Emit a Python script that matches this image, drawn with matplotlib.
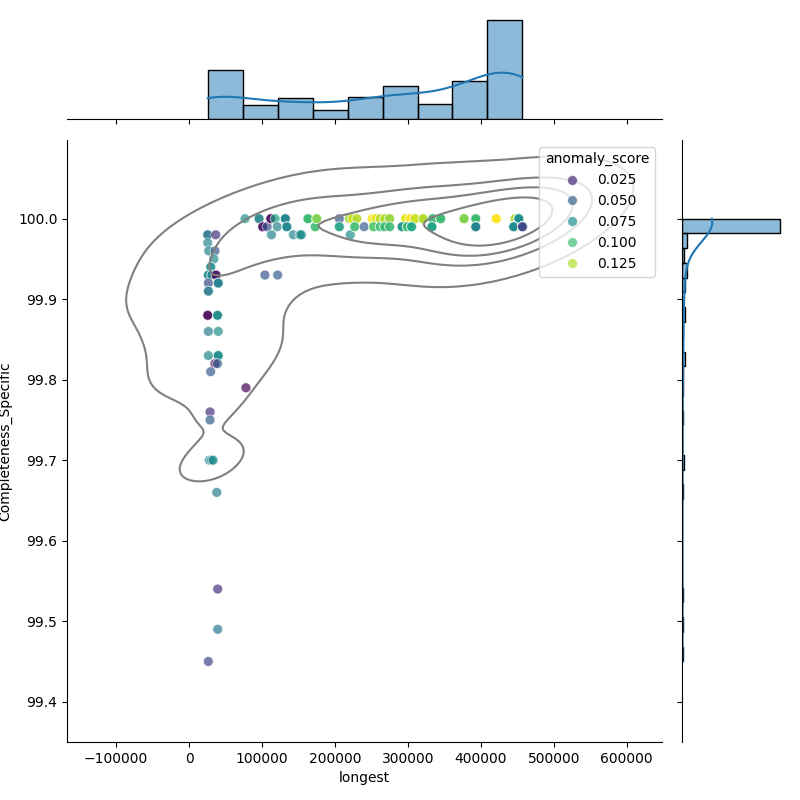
import numpy as np
import pandas as pd
import matplotlib
matplotlib.use("Agg")
import matplotlib.pyplot as plt
import seaborn as sns

# distinct points (x in thousands) and how often each row occurs
longest_k = [
    # short column
    25.6, 36.6, 25.6, 27.0, 35.6, 34.0, 29.7, 26.5, 31.2, 37.0, 26.5, 40.0, 26.5,
    25.6, 39.0, 26.5, 40.0, 26.5, 40.0, 35.6, 39.0, 29.7, 28.8, 28.8, 27.8, 31.0,
    33.0, 38.0, 39.3, 39.3, 26.4,
    # 74k - 122k
    76.7, 78.0, 96.0, 101.0, 104.0, 107.0, 112.0, 113.0, 118.0, 121.0, 121.5,
    # 122k - 170k
    132.0, 134.0, 143.0, 152.0, 154.0, 163.0,
    # 170k - 218k
    173.0, 175.0, 206.0, 206.0,
    # 218k - 266k
    220.0, 224.0, 230.0, 221.0, 227.0, 240.0, 251.0, 256.0, 262.0, 253.0, 262.0,
    # 266k - 314k
    268.0, 275.0, 268.0, 275.0, 297.0, 303.0, 310.0, 292.0, 299.0, 305.0,
    # 314k - 362k
    321.0, 334.0, 333.0, 345.0,
    # 362k - 410k
    377.0, 393.0, 393.0,
    # 410k - 458k
    421.0, 447.0, 452.0, 445.0, 457.0,
]
completeness = [
    99.98, 99.98, 99.97, 99.96, 99.96, 99.95, 99.94, 99.93, 99.93, 99.93, 99.92, 99.92, 99.91,
    99.88, 99.88, 99.86, 99.86, 99.83, 99.83, 99.82, 99.82, 99.81, 99.76, 99.75, 99.70, 99.70,
    99.70, 99.66, 99.54, 99.49, 99.45,
    100.0, 99.79, 100.0, 99.99, 99.93, 99.99, 100.0, 99.98, 100.0, 99.99, 99.93,
    100.0, 99.99, 99.98, 99.98, 99.98, 100.0,
    99.99, 100.0, 100.0, 99.99,
    100.0, 100.0, 100.0, 99.98, 99.99, 99.99, 100.0, 100.0, 100.0, 99.99, 99.99,
    100.0, 100.0, 99.99, 99.99, 100.0, 100.0, 100.0, 99.99, 99.99, 99.99,
    100.0, 100.0, 99.99, 100.0,
    100.0, 100.0, 99.99,
    100.0, 100.0, 100.0, 99.99, 99.99,
]
anomaly = [
    0.060, 0.030, 0.070, 0.070, 0.050, 0.075, 0.075, 0.075, 0.070, 0.015, 0.040, 0.070, 0.065,
    0.012, 0.075, 0.065, 0.075, 0.070, 0.075, 0.012, 0.050, 0.050, 0.030, 0.050, 0.070, 0.065,
    0.075, 0.065, 0.030, 0.065, 0.040,
    0.075, 0.012, 0.070, 0.015, 0.045, 0.045, 0.015, 0.070, 0.085, 0.070, 0.050,
    0.070, 0.072, 0.070, 0.072, 0.075, 0.100,
    0.100, 0.115, 0.045, 0.085,
    0.120, 0.130, 0.125, 0.075, 0.100, 0.050, 0.140, 0.135, 0.125, 0.105, 0.100,
    0.125, 0.120, 0.100, 0.100, 0.135, 0.140, 0.130, 0.080, 0.100, 0.090,
    0.125, 0.100, 0.085, 0.100,
    0.115, 0.100, 0.070,
    0.140, 0.125, 0.075, 0.075, 0.040,
]
repeats = [
    2, 1, 1, 1, 1, 1, 2, 3, 2, 2, 1, 3, 2,
    2, 3, 1, 1, 1, 3, 1, 1, 1, 1, 1, 1, 1,
    1, 1, 1, 1, 1,
    1, 1, 2, 2, 1, 1, 2, 1, 1, 1, 1,
    5, 3, 1, 2, 1, 6,
    2, 3, 1, 2,
    2, 2, 2, 1, 2, 1, 2, 2, 2, 2, 2,
    3, 3, 3, 2, 4, 3, 3, 3, 3, 3,
    4, 3, 3, 4,
    12, 13, 10,
    15, 20, 20, 15, 20,
]

df = pd.DataFrame({
    "longest": np.array(longest_k) * 1000,
    "Completeness_Specific": completeness,
    "anomaly_score": anomaly,
})
df = df.loc[df.index.repeat(repeats)].reset_index(drop=True)

g = sns.JointGrid(data=df, x="longest", y="Completeness_Specific", height=8, ratio=5, space=0.2)

# 散布図 + 等高線
sns.scatterplot(data=df, x="longest", y="Completeness_Specific", hue="anomaly_score",
                palette="viridis", alpha=0.7, s=50, ax=g.ax_joint)
sns.kdeplot(data=df, x="longest", y="Completeness_Specific", color="gray", levels=5, ax=g.ax_joint)

# 周辺ヒストグラム
sns.histplot(data=df, x="longest", bins=9, kde=True, ax=g.ax_marg_x)
sns.histplot(data=df, y="Completeness_Specific", bins=30, kde=True, ax=g.ax_marg_y)
g.ax_marg_x.set_xlabel("")
g.ax_marg_x.set_ylabel("")
g.ax_marg_y.set_xlabel("")
g.ax_marg_y.set_ylabel("")

g.ax_joint.set_xlim(-167000, 648000)
g.ax_joint.set_ylim(99.35, 100.098)
g.ax_joint.set_xlabel("longest")
g.ax_joint.set_ylabel("Completeness_Specific")

g.figure.set_size_inches(8, 8)
g.figure.subplots_adjust(left=0.084, right=0.981, top=0.981, bottom=0.0725)
g.figure.savefig("out.png", dpi=100)
